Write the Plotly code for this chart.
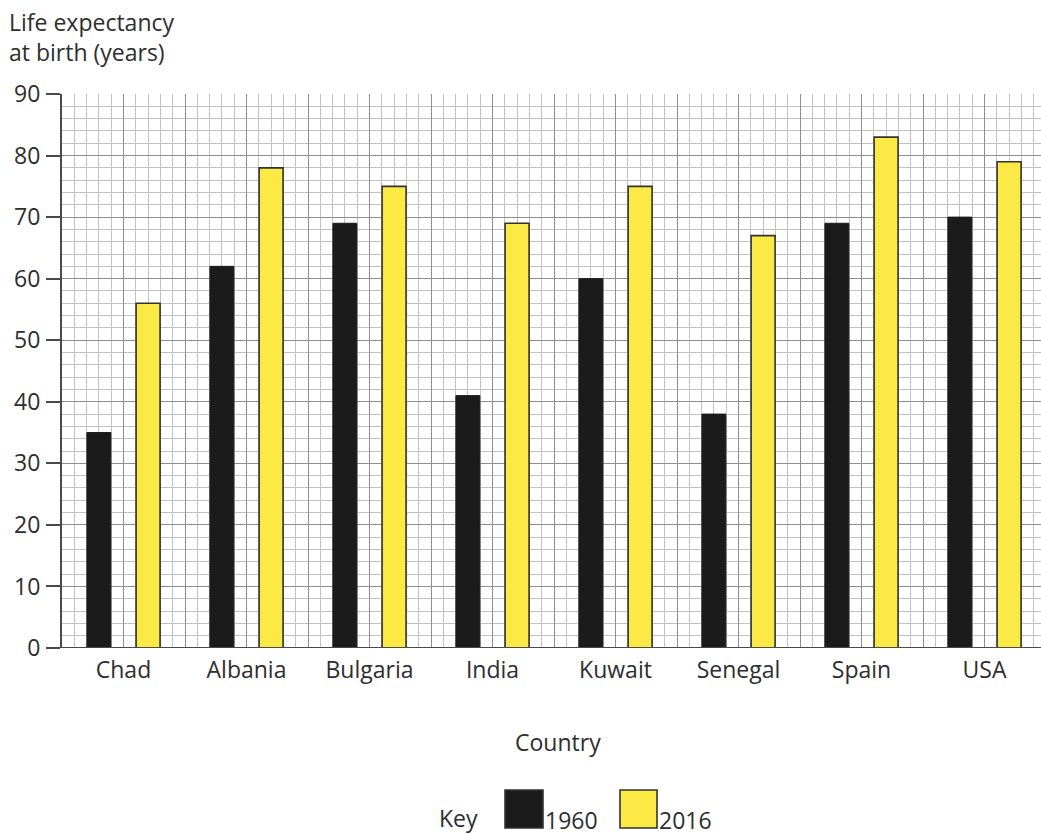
import plotly.graph_objects as go

countries = ["Chad", "Albania", "Bulgaria", "India", "Kuwait", "Senegal", "Spain", "USA"]
life_1960 = [35, 62, 69, 41, 60, 38, 69, 70]
life_2016 = [56, 78, 75, 69, 75, 67, 83, 79]
series_names = ["1960", "2016"]
y_ticks = [0, 10, 20, 30, 40, 50, 60, 70, 80, 90]

W, H = 1041, 835
L, R, T, B = 62, 0, 94, 187
PW, PH = W - L - R, H - T - B

def px_x(x):
    return (x - L) / PW

def px_y(y):
    return (H - B - y) / PH

BLACK = "#1b1b1b"
YELLOW = "#fbea45"
EDGE = "#333333"
TXT = "#2e2e2e"
FONT = "Open Sans"
FS = 23

pos = [i + 1 for i in range(len(countries))]
bw = 0.195

fig = go.Figure()
fig.add_trace(go.Bar(x=pos, y=life_1960, name=series_names[0], width=bw, offset=-0.2 - bw / 2,
                     marker=dict(color=BLACK, line=dict(color=BLACK, width=1)), showlegend=False))
fig.add_trace(go.Bar(x=pos, y=life_2016, name=series_names[1], width=bw, offset=0.2 - bw / 2,
                     marker=dict(color=YELLOW, line=dict(color=EDGE, width=1.6)), showlegend=False))

xt_vals, xt_text = [], []
for i, c in enumerate(countries):
    xt_vals += [i + 0.5, i + 1]
    xt_text += ["", c]
xt_vals.append(len(countries) + 0.5)
xt_text.append("")

x_max = 0.5 + PW / 123.0

fig.update_layout(
    width=W, height=H,
    margin=dict(l=L, r=R, t=T, b=B, pad=0),
    plot_bgcolor="white", paper_bgcolor="white",
    barmode="overlay",
    font=dict(family=FONT, size=FS, color=TXT),
    xaxis=dict(
        range=[0.5, x_max], tickmode="array", tickvals=xt_vals, ticktext=xt_text,
        ticks="", showgrid=True, gridcolor="#8e8e8e", gridwidth=1.4,
        minor=dict(tickmode="linear", tick0=0.5, dtick=0.1, showgrid=True, gridcolor="#c2c2c2", gridwidth=1.2, ticks=""),
        zeroline=False, showline=False, tickfont=dict(size=FS, color=TXT), ticklabelstandoff=6,
        fixedrange=True,
    ),
    yaxis=dict(
        range=[0, 90], tickmode="array", tickvals=y_ticks,
        ticks="outside", ticklen=14, tickwidth=2, tickcolor="#4a4a4a",
        showgrid=True, gridcolor="#8e8e8e", gridwidth=1.4,
        minor=dict(tickmode="linear", tick0=0, dtick=2, showgrid=True, gridcolor="#c2c2c2", gridwidth=1.2, ticks=""),
        zeroline=False, showline=True, linecolor="#4a4a4a", linewidth=2,
        tickfont=dict(size=FS, color=TXT), ticklabelstandoff=1, fixedrange=True,
    ),
)

# x axis baseline
fig.add_shape(type="line", xref="paper", yref="y", x0=-14 / PW, x1=1, y0=0, y1=0,
              line=dict(color="#4a4a4a", width=2))

fig.add_annotation(text="Life expectancy<br>at birth (years)", xref="paper", yref="paper",
                   x=px_x(7), y=px_y(37), xanchor="left", yanchor="middle", align="left",
                   showarrow=False, font=dict(size=FS, color=TXT))
fig.add_annotation(text="Country", xref="paper", yref="paper", x=px_x(558), y=px_y(742),
                   xanchor="center", yanchor="middle", showarrow=False, font=dict(size=FS, color=TXT))

# key
fig.add_annotation(text="Key", xref="paper", yref="paper", x=px_x(480), y=px_y(818),
                   xanchor="right", yanchor="middle", showarrow=False, font=dict(size=FS, color=TXT))
for (x0, x1, col, label) in [(505, 543, BLACK, series_names[0]), (620, 657, YELLOW, series_names[1])]:
    fig.add_shape(type="rect", xref="paper", yref="paper", x0=px_x(x0), x1=px_x(x1),
                  y0=px_y(828), y1=px_y(790), fillcolor=col, line=dict(color=EDGE, width=1.6))
    fig.add_annotation(text=label, xref="paper", yref="paper", x=px_x(x1), y=px_y(820),
                       xanchor="left", yanchor="middle", showarrow=False, font=dict(size=FS, color=TXT))

fig.write_html("out.html")
